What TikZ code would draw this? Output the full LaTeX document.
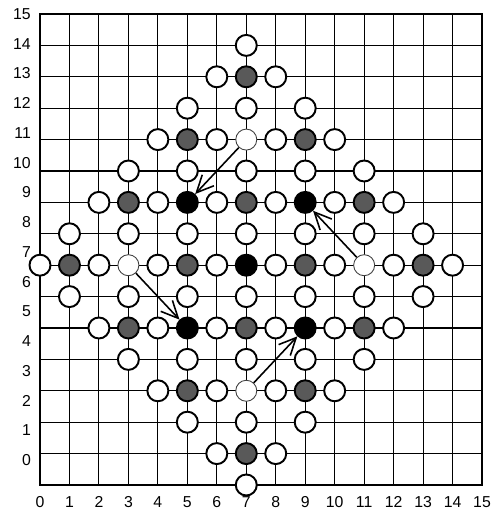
\documentclass[tikz,border=0pt]{standalone}
\usepackage{fontspec}
\setmainfont{Liberation Sans}
\usepackage{tikz}
\usetikzlibrary{arrows.meta}
\tikzset{
  board/.style={line width=0.6pt},
  stone/.style={draw, circle, minimum size=4.2mm, inner sep=0pt, line width=1.1pt, fill=white},
  shaded/.style={stone, fill=black!65},
  solid/.style={stone, fill=black},
  vacated/.style={stone, line width=0.5pt, draw=black!75},
  axis/.style={font=\fontsize{9}{10}\selectfont, inner sep=0pt},
  move/.style={-{Straight Barb[length=3.4mm,width=3.2mm,line width=0.9pt]}, line width=0.9pt}
}
\begin{document}
\begin{tikzpicture}[x=0.5894cm, y=0.628cm]
    \useasboundingbox (-1.357,-0.924) rectangle (15.372,15.446);

    % board and numbering
    \draw[board] (0,0) grid[step={(1,1)}] (15,15);
    \draw[board] (0,0) rectangle (15,15);
    \foreach \k in {0,...,15}
      \node[axis] (xlab\k) at (\k,-0.54) {\k};
    \foreach \k in {0,...,15}
      \node[axis, anchor=east] (ylab\k) at (-0.3,{0.796+0.947*\k}) {\k};

    % empty points
    \foreach \x/\y in {7/14, 6/13, 8/13, 5/12, 7/12, 9/12, 4/11, 6/11, 8/11, 10/11,
        3/10, 5/10, 7/10, 9/10, 11/10, 2/9, 4/9, 6/9, 8/9, 10/9, 12/9,
        1/8, 3/8, 5/8, 7/8, 9/8, 11/8, 13/8, 0/7, 2/7, 4/7, 6/7, 8/7, 10/7, 12/7, 14/7,
        1/6, 3/6, 5/6, 7/6, 9/6, 11/6, 13/6, 2/5, 4/5, 6/5, 8/5, 10/5, 12/5,
        3/4, 5/4, 7/4, 9/4, 11/4, 4/3, 6/3, 8/3, 10/3, 5/2, 7/2, 9/2, 6/1, 8/1, 7/0}
      \node[stone] (p\x-\y) at (\x,\y) {};

    % grey stones
    \foreach \x/\y in {7/13, 5/11, 9/11, 3/9, 7/9, 11/9, 1/7, 5/7, 9/7, 13/7,
        3/5, 7/5, 11/5, 5/3, 9/3, 7/1}
      \node[shaded] (p\x-\y) at (\x,\y) {};

    % black stones
    \foreach \x/\y in {5/9, 9/9, 7/7, 5/5, 9/5}
      \node[solid] (p\x-\y) at (\x,\y) {};

    % starting points of the moves
    \foreach \x/\y in {7/11, 3/7, 11/7, 7/3}
      \node[vacated] (p\x-\y) at (\x,\y) {};

    \draw[move] (p7-11) -- (p5-9);
    \draw[move] (p11-7) -- (p9-9);
    \draw[move] (p3-7) -- (p5-5);
    \draw[move] (p7-3) -- (p9-5);
\end{tikzpicture}
\end{document}
